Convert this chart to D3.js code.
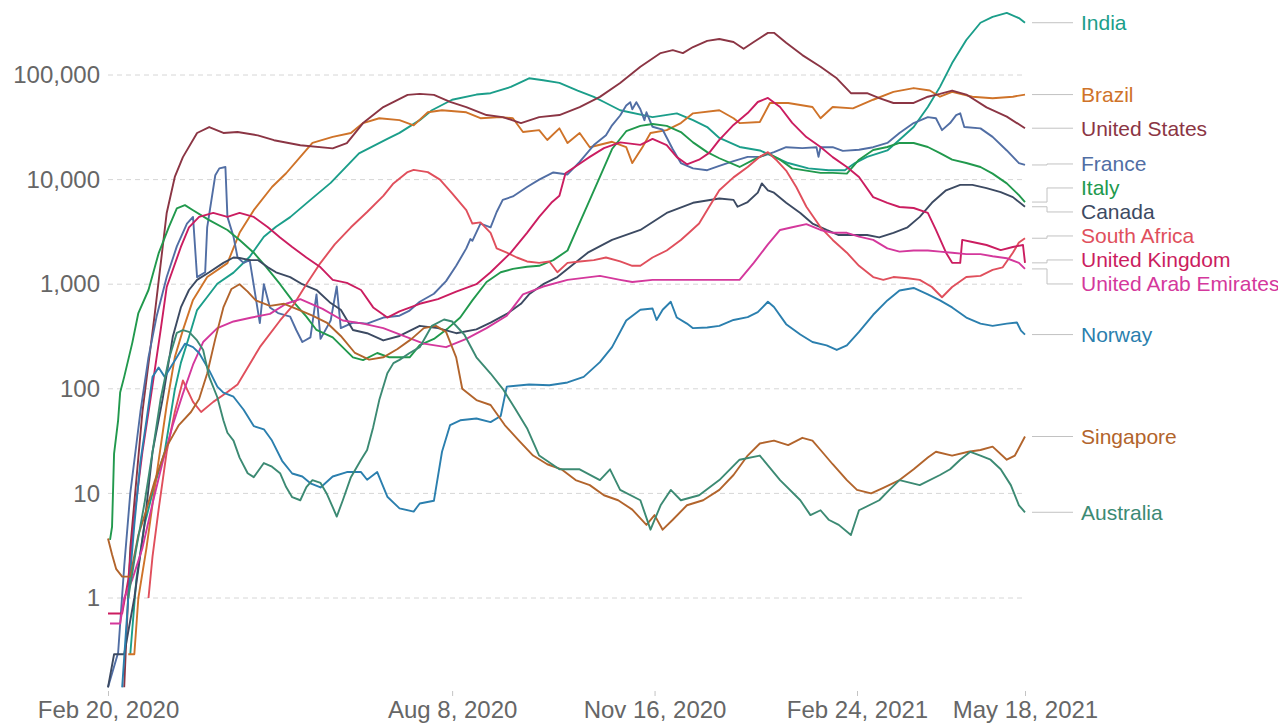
<!DOCTYPE html>
<html>
<head>
<meta charset="utf-8">
<script src="https://cdn.jsdelivr.net/npm/d3@7"></script>
<style>
  body { margin: 0; background: #fff; }
  svg { display: block; font-family: "Liberation Sans", Arial, Helvetica, sans-serif; }
</style>
</head>
<body>
<div id="chart"></div>
<script>
// daily new confirmed cases, 7-day rolling average (log scale)
var yTicks = [1, 10, 100, 1000, 10000, 100000];
var xTicks = ["2020-02-20", "2020-08-08", "2020-11-16", "2021-02-24", "2021-05-18"];

var india = [["2020-03-02",0.29],["2020-03-05",1.5],["2020-03-09",5],["2020-03-14",12],["2020-03-19",25],["2020-03-24",98],["2020-03-27",177],["2020-03-31",313],["2020-04-04",566],["2020-04-09",755],["2020-04-14",1010],["2020-04-22",1290],["2020-04-30",1830],["2020-05-07",2840],["2020-05-13",3540],["2020-05-20",4380],["2020-05-30",6400],["2020-06-09",9300],["2020-06-23",17800],["2020-07-07",24500],["2020-07-13",28000],["2020-07-23",37000],["2020-07-29",46000],["2020-08-08",58000],["2020-08-20",65000],["2020-08-27",67000],["2020-09-06",77000],["2020-09-15",93000],["2020-09-22",89000],["2020-09-30",84000],["2020-10-09",71000],["2020-10-17",61800],["2020-10-23",54000],["2020-10-30",46000],["2020-11-15",39600],["2020-11-27",43000],["2020-12-05",37000],["2020-12-12",31800],["2020-12-18",25000],["2020-12-28",20500],["2021-01-07",19000],["2021-01-21",14400],["2021-01-31",12800],["2021-02-10",12300],["2021-02-18",12300],["2021-02-23",14400],["2021-03-01",16500],["2021-03-11",19000],["2021-03-17",24000],["2021-03-24",31800],["2021-03-31",49400],["2021-04-06",77000],["2021-04-12",130000],["2021-04-19",216000],["2021-04-26",316000],["2021-05-02",360000],["2021-05-09",392000],["2021-05-15",350000],["2021-05-18",316000]];

var brazil = [["2020-03-01",0.29],["2020-03-04",0.29],["2020-03-06",1],["2020-03-10",3],["2020-03-15",15],["2020-03-20",70],["2020-03-24",200],["2020-03-28",364],["2020-04-02",708],["2020-04-09",1170],["2020-04-19",1590],["2020-04-25",3100],["2020-05-02",5100],["2020-05-11",8500],["2020-05-18",11500],["2020-05-25",16500],["2020-05-31",22400],["2020-06-10",25600],["2020-06-19",27900],["2020-06-25",34700],["2020-07-03",38600],["2020-07-13",37000],["2020-07-20",33000],["2020-07-27",44000],["2020-08-03",46000],["2020-08-15",44000],["2020-08-22",38600],["2020-09-01",39600],["2020-09-07",38600],["2020-09-12",28500],["2020-09-20",29700],["2020-09-24",23900],["2020-09-30",30900],["2020-10-04",22400],["2020-10-10",27900],["2020-10-15",20400],["2020-10-26",23000],["2020-11-02",20400],["2020-11-05",14400],["2020-11-10",20400],["2020-11-14",27900],["2020-11-22",29700],["2020-11-29",34700],["2020-12-05",43000],["2020-12-18",46000],["2020-12-25",38600],["2020-12-28",34700],["2021-01-07",35500],["2021-01-12",54000],["2021-01-21",54000],["2021-02-02",49400],["2021-02-06",38600],["2021-02-12",49400],["2021-02-22",48000],["2021-03-04",58000],["2021-03-14",69000],["2021-03-24",75000],["2021-04-01",71000],["2021-04-06",62000],["2021-04-12",69000],["2021-04-22",62000],["2021-05-02",60000],["2021-05-12",62000],["2021-05-18",65000]];

var unitedStates = [["2020-02-28",0.14],["2020-03-02",3],["2020-03-08",60],["2020-03-14",500],["2020-03-20",4800],["2020-03-24",10600],["2020-03-28",16400],["2020-04-04",27900],["2020-04-10",31800],["2020-04-17",27900],["2020-04-24",28500],["2020-05-04",26500],["2020-05-12",23800],["2020-05-25",21300],["2020-06-10",19900],["2020-06-17",22300],["2020-06-25",34700],["2020-07-05",49400],["2020-07-17",64600],["2020-07-23",66000],["2020-07-30",64600],["2020-08-07",55400],["2020-08-15",49400],["2020-08-25",41400],["2020-09-02",39600],["2020-09-11",34700],["2020-09-20",39600],["2020-09-30",41400],["2020-10-10",49400],["2020-10-20",61800],["2020-10-30",84000],["2020-11-09",120000],["2020-11-19",162000],["2020-11-25",173000],["2020-11-30",162000],["2020-12-05",185000],["2020-12-12",212000],["2020-12-18",221000],["2020-12-25",207000],["2020-12-30",178000],["2021-01-04",207000],["2021-01-11",253000],["2021-01-14",253000],["2021-01-20",203000],["2021-01-28",155000],["2021-02-06",120000],["2021-02-14",93000],["2021-02-21",67000],["2021-03-01",67000],["2021-03-07",60000],["2021-03-14",54000],["2021-03-24",54000],["2021-03-31",62000],["2021-04-06",66000],["2021-04-12",71000],["2021-04-19",65000],["2021-04-29",49000],["2021-05-09",40000],["2021-05-18",31000]];

var france = [["2020-02-20",0.14],["2020-02-25",0.3],["2020-02-28",2],["2020-03-02",10],["2020-03-07",60],["2020-03-11",200],["2020-03-15",490],["2020-03-20",1170],["2020-03-25",2300],["2020-03-30",3800],["2020-04-02",4400],["2020-04-04",1170],["2020-04-08",1300],["2020-04-09",3500],["2020-04-13",11000],["2020-04-15",12800],["2020-04-18",13200],["2020-04-19",4400],["2020-04-22",2850],["2020-04-24",1800],["2020-04-27",1600],["2020-04-30",1700],["2020-05-05",425],["2020-05-07",1000],["2020-05-10",600],["2020-05-14",530],["2020-05-20",490],["2020-05-23",365],["2020-05-26",280],["2020-05-30",310],["2020-06-02",800],["2020-06-04",300],["2020-06-09",450],["2020-06-12",950],["2020-06-14",380],["2020-06-20",430],["2020-06-27",420],["2020-07-05",480],["2020-07-13",500],["2020-07-18",560],["2020-07-23",680],["2020-07-30",810],["2020-08-05",1070],["2020-08-10",1500],["2020-08-15",2200],["2020-08-17",2700],["2020-08-18",2600],["2020-08-22",3800],["2020-08-27",3500],["2020-08-30",4900],["2020-09-02",6400],["2020-09-07",6900],["2020-09-14",8500],["2020-09-20",10000],["2020-09-27",11700],["2020-10-04",11200],["2020-10-10",14800],["2020-10-17",21400],["2020-10-23",26500],["2020-10-26",33000],["2020-10-30",41000],["2020-11-02",51000],["2020-11-04",55000],["2020-11-05",47000],["2020-11-07",55000],["2020-11-09",47000],["2020-11-11",37000],["2020-11-12",44000],["2020-11-15",32000],["2020-11-20",30000],["2020-11-25",19500],["2020-11-29",14400],["2020-12-05",12800],["2020-12-12",12300],["2020-12-18",13500],["2020-12-25",15000],["2021-01-01",16500],["2021-01-07",16500],["2021-01-14",18300],["2021-01-20",20400],["2021-01-28",20000],["2021-02-04",20400],["2021-02-05",16500],["2021-02-06",20400],["2021-02-12",20400],["2021-02-17",18800],["2021-02-25",19300],["2021-03-04",20400],["2021-03-11",22400],["2021-03-17",27900],["2021-03-24",34700],["2021-03-31",39600],["2021-04-04",38600],["2021-04-07",29700],["2021-04-11",34700],["2021-04-14",41400],["2021-04-16",43000],["2021-04-18",31800],["2021-04-26",30900],["2021-05-02",25600],["2021-05-09",19000],["2021-05-15",14400],["2021-05-18",13800]];

var italy = [["2020-02-21",3.6],["2020-02-22",4.8],["2020-02-23",24],["2020-02-25",50],["2020-02-26",92],["2020-02-28",130],["2020-03-03",275],["2020-03-06",530],["2020-03-11",880],["2020-03-16",1970],["2020-03-21",3500],["2020-03-25",5300],["2020-03-29",5700],["2020-04-02",5100],["2020-04-10",4100],["2020-04-19",3300],["2020-04-25",2650],["2020-05-02",2000],["2020-05-08",1470],["2020-05-15",1000],["2020-05-21",700],["2020-05-28",490],["2020-06-02",365],["2020-06-10",310],["2020-06-20",200],["2020-06-25",188],["2020-07-02",220],["2020-07-08",200],["2020-07-18",200],["2020-07-23",262],["2020-07-30",300],["2020-08-06",380],["2020-08-12",480],["2020-08-18",700],["2020-08-25",1050],["2020-09-01",1300],["2020-09-07",1400],["2020-09-14",1470],["2020-09-20",1500],["2020-09-27",1700],["2020-10-04",2100],["2020-10-09",3500],["2020-10-15",6400],["2020-10-20",10600],["2020-10-26",19600],["2020-11-02",29000],["2020-11-09",32600],["2020-11-15",34000],["2020-11-22",32600],["2020-11-29",28500],["2020-12-05",22700],["2020-12-12",18300],["2020-12-18",16000],["2020-12-28",13200],["2021-01-04",15500],["2021-01-11",17900],["2021-01-17",15500],["2021-01-23",12800],["2021-01-30",12200],["2021-02-06",11600],["2021-02-12",11600],["2021-02-19",11400],["2021-02-25",15500],["2021-03-04",19200],["2021-03-11",20500],["2021-03-17",22400],["2021-03-24",22400],["2021-03-31",20500],["2021-04-06",17900],["2021-04-12",15500],["2021-04-19",14400],["2021-04-26",13200],["2021-05-02",11400],["2021-05-09",9200],["2021-05-15",7100],["2021-05-18",6100]];

var canada = [["2020-02-20",0.14],["2020-02-23",0.29],["2020-02-28",0.29],["2020-03-04",1],["2020-03-09",5],["2020-03-13",25],["2020-03-18",80],["2020-03-23",314],["2020-03-27",600],["2020-03-31",880],["2020-04-04",1100],["2020-04-10",1300],["2020-04-17",1600],["2020-04-22",1800],["2020-04-25",1780],["2020-04-30",1700],["2020-05-04",1700],["2020-05-09",1450],["2020-05-13",1300],["2020-05-20",1170],["2020-05-26",1000],["2020-06-02",880],["2020-06-09",660],["2020-06-14",570],["2020-06-20",365],["2020-06-27",340],["2020-07-05",290],["2020-07-13",320],["2020-07-23",400],["2020-08-01",380],["2020-08-10",340],["2020-08-20",370],["2020-08-27",430],["2020-09-04",520],["2020-09-11",650],["2020-09-15",800],["2020-09-22",1000],["2020-09-29",1170],["2020-10-14",2000],["2020-10-26",2650],["2020-11-09",3300],["2020-11-22",4800],["2020-12-05",6000],["2020-12-18",6600],["2020-12-25",6400],["2020-12-27",5500],["2021-01-01",6100],["2021-01-06",7500],["2021-01-08",9200],["2021-01-11",7900],["2021-01-14",7500],["2021-01-20",6000],["2021-01-27",4800],["2021-02-02",3800],["2021-02-09",3300],["2021-02-15",2950],["2021-02-22",2950],["2021-03-01",2950],["2021-03-07",2800],["2021-03-14",3100],["2021-03-21",3500],["2021-03-27",4400],["2021-04-02",6000],["2021-04-09",7900],["2021-04-16",8900],["2021-04-22",8900],["2021-04-29",8300],["2021-05-06",7600],["2021-05-12",6800],["2021-05-18",5500]];

var southAfrica = [["2020-03-11",1],["2020-03-13",2.5],["2020-03-16",7],["2020-03-20",25],["2020-03-24",60],["2020-03-28",120],["2020-04-02",75],["2020-04-06",60],["2020-04-12",75],["2020-04-18",90],["2020-04-24",110],["2020-05-05",250],["2020-05-15",450],["2020-05-22",650],["2020-05-28",1000],["2020-06-04",1600],["2020-06-11",2400],["2020-06-19",3500],["2020-06-27",4900],["2020-07-05",7000],["2020-07-10",9200],["2020-07-17",11800],["2020-07-20",12400],["2020-07-27",11800],["2020-08-02",10000],["2020-08-08",7400],["2020-08-15",5100],["2020-08-18",3800],["2020-08-22",3900],["2020-08-27",3100],["2020-08-30",2200],["2020-09-04",2000],["2020-09-09",1800],["2020-09-14",1650],["2020-09-20",1600],["2020-09-25",1650],["2020-09-29",1300],["2020-10-04",1600],["2020-10-10",1650],["2020-10-17",1700],["2020-10-23",1800],["2020-10-30",1650],["2020-11-05",1500],["2020-11-09",1500],["2020-11-15",1800],["2020-11-22",2100],["2020-11-29",2650],["2020-12-03",3100],["2020-12-08",3800],["2020-12-13",5500],["2020-12-18",7900],["2020-12-25",10500],["2021-01-01",13200],["2021-01-07",16500],["2021-01-11",18300],["2021-01-15",15500],["2021-01-20",12200],["2021-01-25",8500],["2021-01-30",5500],["2021-02-06",3500],["2021-02-12",2650],["2021-02-19",2000],["2021-02-25",1500],["2021-03-04",1170],["2021-03-09",1100],["2021-03-14",1170],["2021-03-21",1140],["2021-03-27",1100],["2021-04-02",940],["2021-04-07",750],["2021-04-12",940],["2021-04-19",1170],["2021-04-26",1200],["2021-05-02",1370],["2021-05-07",1450],["2021-05-12",2000],["2021-05-15",2500],["2021-05-18",2750]];

var unitedKingdom = [["2020-02-20",0.71],["2020-02-27",0.71],["2020-03-01",1.5],["2020-03-04",6],["2020-03-08",25],["2020-03-12",80],["2020-03-17",364],["2020-03-20",940],["2020-03-27",2270],["2020-03-31",3500],["2020-04-05",4400],["2020-04-12",4800],["2020-04-19",4400],["2020-04-25",4800],["2020-05-02",4400],["2020-05-09",3500],["2020-05-15",2800],["2020-05-21",2270],["2020-05-28",1800],["2020-06-04",1450],["2020-06-10",1100],["2020-06-17",1030],["2020-06-24",880],["2020-06-30",600],["2020-07-07",480],["2020-07-13",550],["2020-07-23",650],["2020-08-01",720],["2020-08-10",850],["2020-08-20",1000],["2020-08-27",1300],["2020-09-06",2000],["2020-09-14",3100],["2020-09-20",4400],["2020-09-26",6000],["2020-09-30",7000],["2020-10-03",11500],["2020-10-10",14200],["2020-10-15",16500],["2020-10-22",20000],["2020-10-30",22700],["2020-11-09",21500],["2020-11-15",24500],["2020-11-22",21400],["2020-11-27",16400],["2020-12-02",14000],["2020-12-08",15500],["2020-12-13",18000],["2020-12-18",24000],["2020-12-25",33300],["2021-01-01",43300],["2021-01-06",55200],["2021-01-11",60300],["2021-01-17",49400],["2021-01-23",34800],["2021-01-30",25500],["2021-02-06",20500],["2021-02-12",16400],["2021-02-19",13200],["2021-02-25",10600],["2021-03-04",6800],["2021-03-11",6000],["2021-03-17",5470],["2021-03-24",5350],["2021-03-31",4800],["2021-04-04",3300],["2021-04-09",2000],["2021-04-12",1600],["2021-04-16",1600],["2021-04-17",2650],["2021-04-22",2530],["2021-04-29",2370],["2021-05-06",2120],["2021-05-12",2270],["2021-05-17",2370],["2021-05-18",1600]];

var uae = [["2020-02-21",0.57],["2020-02-26",0.57],["2020-02-28",1],["2020-03-03",1.5],["2020-03-08",3],["2020-03-13",8],["2020-03-18",20],["2020-03-23",45],["2020-03-28",90],["2020-04-02",170],["2020-04-07",280],["2020-04-14",380],["2020-04-22",440],["2020-05-01",480],["2020-05-10",520],["2020-05-18",650],["2020-05-25",720],["2020-06-05",580],["2020-06-15",450],["2020-06-25",420],["2020-07-05",380],["2020-07-15",320],["2020-07-25",270],["2020-08-05",250],["2020-08-15",300],["2020-08-25",380],["2020-09-04",500],["2020-09-12",800],["2020-09-22",950],["2020-10-04",1100],["2020-10-20",1200],["2020-10-30",1100],["2020-11-05",1050],["2020-11-15",1100],["2020-12-01",1100],["2020-12-18",1100],["2020-12-28",1100],["2021-01-04",1600],["2021-01-11",2400],["2021-01-17",3300],["2021-01-23",3500],["2021-01-30",3750],["2021-02-06",3300],["2021-02-12",3100],["2021-02-19",3100],["2021-02-25",2850],["2021-03-04",2650],["2021-03-11",2200],["2021-03-17",2050],["2021-03-24",2100],["2021-03-31",2100],["2021-04-06",2050],["2021-04-12",2000],["2021-04-19",1940],["2021-04-26",1940],["2021-05-02",1850],["2021-05-09",1770],["2021-05-15",1600],["2021-05-18",1400]];

var norway = [["2020-02-27",0.14],["2020-03-01",1],["2020-03-04",5],["2020-03-07",20],["2020-03-10",50],["2020-03-13",130],["2020-03-16",160],["2020-03-19",130],["2020-03-25",200],["2020-03-29",270],["2020-04-02",250],["2020-04-05",220],["2020-04-10",150],["2020-04-14",105],["2020-04-17",92],["2020-04-22",84],["2020-04-27",63],["2020-05-02",44],["2020-05-07",41],["2020-05-11",32],["2020-05-16",20.5],["2020-05-21",15.5],["2020-05-26",14.5],["2020-05-30",12.5],["2020-06-04",11.4],["2020-06-10",14.5],["2020-06-17",16],["2020-06-24",16],["2020-06-27",13.5],["2020-07-02",16],["2020-07-07",9.3],["2020-07-13",7.2],["2020-07-20",6.7],["2020-07-23",8],["2020-07-30",8.5],["2020-08-03",25],["2020-08-07",45],["2020-08-12",50],["2020-08-20",52],["2020-08-27",48],["2020-09-01",55],["2020-09-04",105],["2020-09-15",110],["2020-09-25",108],["2020-10-04",115],["2020-10-12",130],["2020-10-20",180],["2020-10-26",250],["2020-11-02",450],["2020-11-09",570],["2020-11-15",585],["2020-11-17",455],["2020-11-20",570],["2020-11-24",680],["2020-11-27",480],["2020-12-02",420],["2020-12-05",380],["2020-12-12",385],["2020-12-18",400],["2020-12-25",455],["2021-01-01",485],["2021-01-06",540],["2021-01-11",680],["2021-01-14",605],["2021-01-20",415],["2021-01-27",330],["2021-02-02",280],["2021-02-09",260],["2021-02-14",235],["2021-02-19",260],["2021-02-25",350],["2021-03-04",510],["2021-03-11",700],["2021-03-17",870],["2021-03-24",920],["2021-03-31",800],["2021-04-06",700],["2021-04-12",600],["2021-04-19",480],["2021-04-26",420],["2021-05-02",400],["2021-05-09",420],["2021-05-14",430],["2021-05-16",360],["2021-05-18",330]];

var singapore = [["2020-02-20",3.7],["2020-02-22",2.6],["2020-02-24",1.9],["2020-02-27",1.6],["2020-03-02",1.6],["2020-03-06",4],["2020-03-10",7],["2020-03-14",13],["2020-03-20",28],["2020-03-26",45],["2020-04-01",60],["2020-04-05",80],["2020-04-09",140],["2020-04-13",300],["2020-04-17",600],["2020-04-21",900],["2020-04-25",1000],["2020-04-29",850],["2020-05-03",700],["2020-05-10",620],["2020-05-17",650],["2020-05-24",570],["2020-05-31",500],["2020-06-07",430],["2020-06-14",320],["2020-06-21",220],["2020-06-28",190],["2020-07-05",200],["2020-07-12",240],["2020-07-19",300],["2020-07-25",380],["2020-07-31",400],["2020-08-05",350],["2020-08-10",200],["2020-08-13",100],["2020-08-20",78],["2020-08-27",70],["2020-09-03",45],["2020-09-10",32],["2020-09-17",23],["2020-09-24",19],["2020-10-01",17],["2020-10-08",13.4],["2020-10-15",12],["2020-10-22",9.6],["2020-10-29",8.6],["2020-11-05",7],["2020-11-12",5],["2020-11-16",6.2],["2020-11-20",4.5],["2020-11-25",5.6],["2020-12-02",7.7],["2020-12-10",8.6],["2020-12-18",10.8],["2020-12-25",15],["2021-01-01",23],["2021-01-07",30],["2021-01-14",32],["2021-01-21",29],["2021-01-28",34],["2021-02-02",32],["2021-02-06",26],["2021-02-12",19],["2021-02-19",13.4],["2021-02-24",10.8],["2021-03-03",10],["2021-03-09",11.3],["2021-03-17",13.4],["2021-03-24",17],["2021-03-31",22],["2021-04-04",25],["2021-04-12",23],["2021-04-20",25],["2021-04-26",26],["2021-05-02",28],["2021-05-09",21],["2021-05-13",23],["2021-05-18",35]];

var australia = [["2020-03-01",1],["2020-03-05",3],["2020-03-09",8],["2020-03-13",25],["2020-03-17",80],["2020-03-21",190],["2020-03-25",343],["2020-03-28",364],["2020-03-31",350],["2020-04-04",290],["2020-04-07",235],["2020-04-10",130],["2020-04-14",83],["2020-04-17",50],["2020-04-19",38],["2020-04-22",32],["2020-04-25",22],["2020-04-29",15.6],["2020-05-02",14.3],["2020-05-07",19.5],["2020-05-11",18],["2020-05-15",15.6],["2020-05-18",11.5],["2020-05-21",9.2],["2020-05-25",8.6],["2020-05-28",11.5],["2020-05-31",13.4],["2020-06-04",12.6],["2020-06-07",10],["2020-06-10",7.4],["2020-06-12",6],["2020-06-15",8.6],["2020-06-19",14.3],["2020-06-24",21],["2020-06-27",26],["2020-06-30",43],["2020-07-03",78],["2020-07-07",141],["2020-07-10",176],["2020-07-13",189],["2020-07-18",220],["2020-07-23",250],["2020-07-29",400],["2020-08-04",460],["2020-08-08",440],["2020-08-14",330],["2020-08-20",200],["2020-08-27",140],["2020-09-02",100],["2020-09-08",65],["2020-09-14",42],["2020-09-20",23],["2020-09-30",17],["2020-10-10",17],["2020-10-20",13.4],["2020-10-25",17],["2020-10-30",10.8],["2020-11-09",8.6],["2020-11-14",4.5],["2020-11-19",7.7],["2020-11-24",10.8],["2020-11-29",8.6],["2020-12-08",9.6],["2020-12-18",13.4],["2020-12-28",21],["2021-01-07",23],["2021-01-17",13.4],["2021-01-27",8.6],["2021-02-01",6.2],["2021-02-06",6.9],["2021-02-10",5.6],["2021-02-15",5],["2021-02-21",4],["2021-02-25",6.9],["2021-03-07",8.6],["2021-03-12",10.8],["2021-03-17",13.4],["2021-03-27",12],["2021-04-06",15],["2021-04-11",17],["2021-04-16",21],["2021-04-21",25],["2021-04-26",23],["2021-05-01",21],["2021-05-06",17],["2021-05-11",12],["2021-05-15",7.7],["2021-05-18",6.6]];

var countries = ["India", "Brazil", "United States", "France", "Italy", "Canada", "South Africa", "United Kingdom", "United Arab Emirates", "Norway", "Singapore", "Australia"];
var countryValues = [india, brazil, unitedStates, france, italy, canada, southAfrica, unitedKingdom, uae, norway, singapore, australia];
var colors = ["#1b9e8a", "#cf7329", "#8b3544", "#516ea4", "#21994d", "#3c4a62", "#e04f5c", "#cb1d60", "#d4389c", "#2b7fae", "#b2642c", "#3c8a73"];

// set the dimensions of the graph
var width = 1278, height = 724;
var plotLeft = 108, plotRight = 1025;

var svg = d3.select("#chart")
  .append("svg")
    .attr("width", width)
    .attr("height", height);

var parseDate = d3.timeParse("%Y-%m-%d");

var x = d3.scaleTime()
  .domain([parseDate("2020-02-20"), parseDate("2021-05-18")])
  .range([plotLeft, plotRight]);

var y = d3.scaleLog()
  .domain([1, 100000])
  .range([598, 75]);

// dashed gridlines
svg.append("g")
  .selectAll("line")
  .data(yTicks)
  .enter()
  .append("line")
    .attr("x1", plotLeft)
    .attr("x2", plotRight)
    .attr("y1", function(d) { return y(d); })
    .attr("y2", function(d) { return y(d); })
    .attr("stroke", "#d6d6d6")
    .attr("stroke-width", 1)
    .attr("stroke-dasharray", "5,4");

// Y axis
var yAxis = svg.append("g")
  .attr("transform", "translate(" + plotLeft + ",0)")
  .call(d3.axisLeft(y).tickValues(yTicks).tickFormat(d3.format(",")).tickSize(0).tickPadding(8));
yAxis.attr("font-family", null).attr("font-size", null);
yAxis.select(".domain").remove();
yAxis.selectAll("text").attr("fill", "#666").style("font-size", "24px");

// X axis
var xAxis = svg.append("g")
  .attr("transform", "translate(0,691)")
  .call(d3.axisBottom(x).tickValues(xTicks.map(parseDate)).tickFormat(d3.timeFormat("%b %-d, %Y")).tickSize(5).tickPadding(5));
xAxis.attr("font-family", null).attr("font-size", null);
xAxis.select(".domain").remove();
xAxis.selectAll(".tick line").attr("stroke", "#c4c4c4");
xAxis.selectAll("text").attr("fill", "#666").style("font-size", "24px");

// series
var series = countries.map(function(name, i) {
  return {
    name: name,
    color: colors[i],
    values: countryValues[i].map(function(p) { return { date: parseDate(p[0]), value: p[1] }; })
  };
});

var line = d3.line()
  .x(function(d) { return x(d.date); })
  .y(function(d) { return y(d.value); });

svg.append("g")
  .selectAll("path")
  .data(series)
  .enter()
  .append("path")
    .attr("d", function(d) { return line(d.values); })
    .attr("fill", "none")
    .attr("stroke", function(d) { return d.color; })
    .attr("stroke-width", 1.9)
    .attr("stroke-linejoin", "round");

// end labels, pushed apart so they don't overlap
var gap = 24;
var labels = series.map(function(s) {
  var last = s.values[s.values.length - 1];
  return { name: s.name, color: s.color, target: y(last.value) };
}).sort(function(a, b) { return a.target - b.target; });

var blocks = [];
labels.forEach(function(l) {
  blocks.push({ items: [l], center: l.target });
  while (blocks.length > 1) {
    var b = blocks[blocks.length - 1], a = blocks[blocks.length - 2];
    var aBottom = a.center + (a.items.length - 1) / 2 * gap;
    var bTop = b.center - (b.items.length - 1) / 2 * gap;
    if (bTop - aBottom >= gap) break;
    var items = a.items.concat(b.items);
    blocks.splice(-2, 2, { items: items, center: d3.mean(items, function(d) { return d.target; }) });
  }
});
blocks.forEach(function(b) {
  b.items.forEach(function(l, i) {
    l.pos = b.center + (i - (b.items.length - 1) / 2) * gap;
  });
});

var labelG = svg.append("g");

labelG.selectAll("path")
  .data(labels)
  .enter()
  .append("path")
    .attr("d", function(d) {
      if (Math.abs(d.pos - d.target) < 1) return "M1032," + d.target + "H1073";
      return "M1032," + d.target + "H1047V" + d.pos + "H1073";
    })
    .attr("fill", "none")
    .attr("stroke", "#c2c2c2")
    .attr("stroke-width", 1);

labelG.selectAll("text")
  .data(labels)
  .enter()
  .append("text")
    .attr("x", 1081)
    .attr("y", function(d) { return d.pos; })
    .attr("dy", "0.35em")
    .attr("fill", function(d) { return d.color; })
    .style("font-size", "21px")
    .text(function(d) { return d.name; });
</script>
</body>
</html>
